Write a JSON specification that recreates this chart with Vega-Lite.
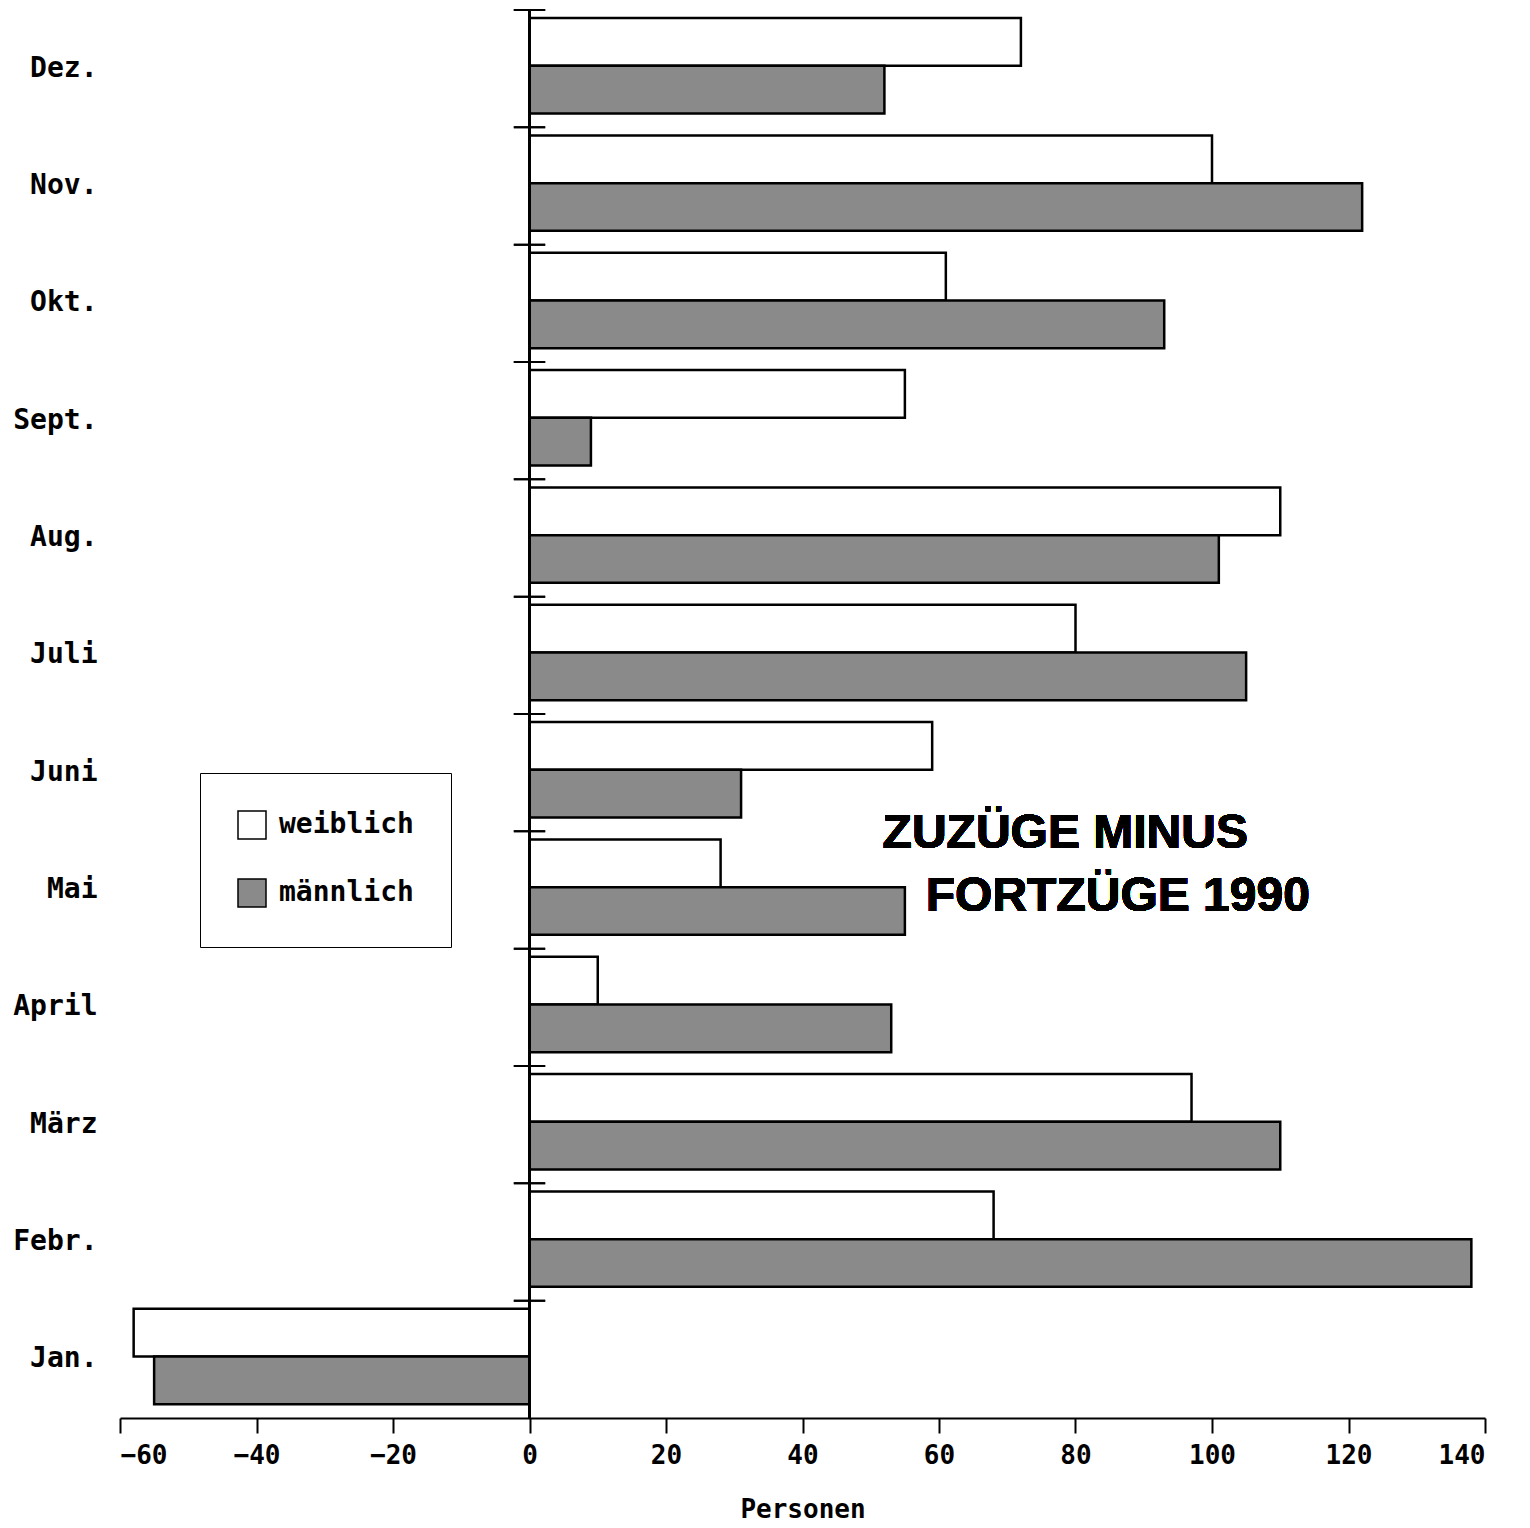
{
  "$schema": "https://vega.github.io/schema/vega-lite/v6.json",
  "width": 1365,
  "height": 1408,
  "autosize": {"type": "none"},
  "padding": {"left": 120, "top": 10, "right": 45, "bottom": 110},
  "background": "white",
  "config": {
    "view": {"stroke": null},
    "font": "DejaVu Sans Mono",
    "axisX": {
      "domainColor": "black", "domainWidth": 2, "tickColor": "black", "tickWidth": 2, "tickSize": 15,
      "labelFont": "DejaVu Sans Mono", "labelFontWeight": "bold", "labelFontSize": 26, "labelColor": "black", "labelPadding": 9,
      "titleFont": "DejaVu Sans Mono", "titleFontWeight": "bold", "titleFontSize": 26, "titleColor": "black", "titlePadding": 28,
      "grid": false
    },
    "axisY": {
      "domain": false, "ticks": false, "grid": false,
      "labelFont": "DejaVu Sans Mono", "labelFontWeight": "bold", "labelFontSize": 28, "labelColor": "black", "labelPadding": 23
    }
  },
  "data": {
    "values": [
      {"month": "Dez.", "sex": "weiblich", "value": 72},
      {"month": "Dez.", "sex": "männlich", "value": 52},
      {"month": "Nov.", "sex": "weiblich", "value": 100},
      {"month": "Nov.", "sex": "männlich", "value": 122},
      {"month": "Okt.", "sex": "weiblich", "value": 61},
      {"month": "Okt.", "sex": "männlich", "value": 93},
      {"month": "Sept.", "sex": "weiblich", "value": 55},
      {"month": "Sept.", "sex": "männlich", "value": 9},
      {"month": "Aug.", "sex": "weiblich", "value": 110},
      {"month": "Aug.", "sex": "männlich", "value": 101},
      {"month": "Juli", "sex": "weiblich", "value": 80},
      {"month": "Juli", "sex": "männlich", "value": 105},
      {"month": "Juni", "sex": "weiblich", "value": 59},
      {"month": "Juni", "sex": "männlich", "value": 31},
      {"month": "Mai", "sex": "weiblich", "value": 28},
      {"month": "Mai", "sex": "männlich", "value": 55},
      {"month": "April", "sex": "weiblich", "value": 10},
      {"month": "April", "sex": "männlich", "value": 53},
      {"month": "März", "sex": "weiblich", "value": 97},
      {"month": "März", "sex": "männlich", "value": 110},
      {"month": "Febr.", "sex": "weiblich", "value": 68},
      {"month": "Febr.", "sex": "männlich", "value": 138},
      {"month": "Jan.", "sex": "weiblich", "value": -58},
      {"month": "Jan.", "sex": "männlich", "value": -55}
    ]
  },
  "layer": [
    {
      "mark": {"type": "bar", "stroke": "black", "strokeWidth": 2.5},
      "encoding": {
        "y": {"field": "month", "type": "nominal", "title": null,
          "sort": ["Dez.", "Nov.", "Okt.", "Sept.", "Aug.", "Juli", "Juni", "Mai", "April", "März", "Febr.", "Jan."],
          "scale": {"paddingInner": 0, "paddingOuter": 0}},
        "yOffset": {"field": "sex", "type": "nominal", "sort": ["weiblich", "männlich"],
          "scale": {"paddingInner": 0, "paddingOuter": 0.23, "align": 0.37}},
        "x": {"field": "value", "type": "quantitative", "title": "Personen",
          "scale": {"domain": [-60, 140], "nice": false, "zero": false},
          "axis": {"values": [-60, -40, -20, 0, 20, 40, 60, 80, 100, 120, 140]}},
        "fill": {"field": "sex", "type": "nominal",
          "scale": {"domain": ["weiblich", "männlich"], "range": ["white", "#8a8a8a"]},
          "legend": {"orient": "none", "legendX": 80, "legendY": 763, "title": null,
            "symbolType": "square", "symbolSize": 784, "symbolStrokeColor": "black", "symbolStrokeWidth": 1.5,
            "labelFont": "DejaVu Sans Mono", "labelFontWeight": "bold", "labelFontSize": 28, "labelColor": "black",
            "labelOffset": 12, "rowPadding": 34, "padding": 37, "strokeColor": "black", "fillColor": "white"}}
      }
    },
    {
      "mark": {"type": "rule", "color": "black", "strokeWidth": 2},
      "encoding": {"x": {"datum": 0, "type": "quantitative"}}
    },
    {
      "mark": {"type": "rule", "color": "black", "strokeWidth": 2},
      "encoding": {
        "y": {"field": "month", "type": "nominal", "title": null, "bandPosition": 0,
          "sort": ["Dez.", "Nov.", "Okt.", "Sept.", "Aug.", "Juli", "Juni", "Mai", "April", "März", "Febr.", "Jan."]},
        "x": {"datum": -2.3, "type": "quantitative"},
        "x2": {"datum": 2.3}
      }
    },
    {
      "mark": {"type": "text", "text": "ZUZÜGE MINUS", "font": "Liberation Sans", "fontWeight": "bold", "fontSize": 48,
        "align": "center", "baseline": "alphabetic", "dy": -42, "color": "black"},
      "encoding": {"x": {"datum": 78.5, "type": "quantitative"}, "y": {"datum": "Mai", "type": "nominal"}}
    },
    {
      "mark": {"type": "text", "text": "FORTZÜGE 1990", "font": "Liberation Sans", "fontWeight": "bold", "fontSize": 48,
        "align": "center", "baseline": "alphabetic", "dy": 21, "color": "black"},
      "encoding": {"x": {"datum": 86.2, "type": "quantitative"}, "y": {"datum": "Mai", "type": "nominal"}}
    }
  ]
}
